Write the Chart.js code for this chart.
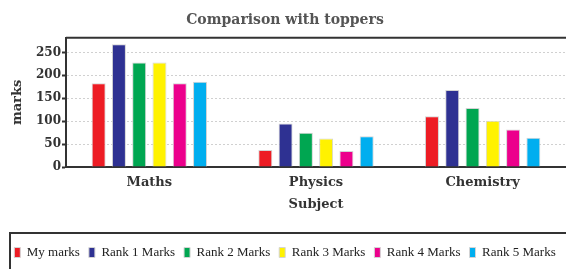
<!DOCTYPE html>
<html>
<head>
<meta charset="utf-8">
<script src="https://cdn.jsdelivr.net/npm/chart.js@4/dist/chart.umd.min.js"></script>
<style>
  html, body { margin: 0; padding: 0; background: #fff; }
  #wrap { width: 566px; height: 269px; }
</style>
</head>
<body>
<div id="wrap"><canvas id="c"></canvas></div>
<script>
const subjects = ["Maths", "Physics", "Chemistry"];
const seriesNames = ["My marks", "Rank 1 Marks", "Rank 2 Marks", "Rank 3 Marks", "Rank 4 Marks", "Rank 5 Marks"];
const myMarks = [183, 37, 111];
const rank1 = [268, 95, 168];
const rank2 = [228, 75, 129];
const rank3 = [228, 62, 101];
const rank4 = [183, 35, 82];
const rank5 = [186, 67, 64];
const colors = ["#ed1c24", "#2e3192", "#00a651", "#fff200", "#ec008c", "#00aeef"];

const serif = "'DejaVu Serif', serif";

// thick top line of the plot and frame round the legend
const frames = {
  id: "frames",
  afterDraw(chart){
    const ctx = chart.ctx, a = chart.chartArea, lg = chart.legend;
    ctx.save();
    ctx.strokeStyle = "#333";
    ctx.lineWidth = 2;
    ctx.beginPath();
    ctx.moveTo(a.left, a.top);
    ctx.lineTo(chart.width, a.top);
    ctx.stroke();
    ctx.strokeRect(10, lg.top - 4, chart.width, lg.bottom - lg.top + 20);
    ctx.restore();
  }
};

const data = [myMarks, rank1, rank2, rank3, rank4, rank5];

new Chart(document.getElementById("c").getContext("2d"), {
  type: "bar",
  data: {
    labels: subjects,
    datasets: seriesNames.map((n, i) => ({
      label: n, data: data[i], backgroundColor: colors[i],
      borderColor: "#d4d4d4", borderWidth: 1,
      categoryPercentage: 0.73, barPercentage: 0.69
    }))
  },
  options: {
    responsive: true, maintainAspectRatio: false, animation: false,
    layout: { padding: { left: 4, right: 0, top: 0, bottom: 0 } },
    plugins: {
      title: { display: true, text: "Comparison with toppers", color: "#555",
        font: { family: serif, size: 14, weight: "bold" }, padding: { top: 12, bottom: 9 } },
      legend: { position: "bottom",
        labels: { boxWidth: 6, boxHeight: 10, padding: 9, color: "#222",
          font: { family: "'Liberation Serif', serif", size: 13 } } },
      tooltip: { enabled: false }
    },
    scales: {
      x: {
        grid: { display: false },
        border: { color: "#333", width: 2 },
        ticks: { color: "#333", font: { family: serif, size: 13, weight: "bold" }, padding: 0 },
        title: { display: true, text: "Subject", color: "#333",
          font: { family: serif, size: 13, weight: "bold" }, padding: { top: 4, bottom: 25 } },
        afterFit(s){ s.height = 70; }
      },
      y: {
        min: 0, max: 282,
        afterBuildTicks(s){ s.ticks = s.ticks.filter(t => t.value % 50 === 0); },
        grid: { color: "#d0d0d0", tickColor: "#333", tickLength: 4, tickWidth: 2 },
        border: { color: "#333", width: 2, dash: [2, 2] },
        ticks: { stepSize: 50, autoSkip: false, color: "#333", padding: 1,
          font: { family: serif, size: 12, weight: "bold" } },
        title: { display: true, text: "marks", color: "#333",
          font: { family: serif, size: 13, weight: "bold" }, padding: { top: 6, bottom: 0 } },
        afterFit(s){ s.width = 62; }
      }
    }
  },
  plugins: [frames]
});
</script>
</body>
</html>
